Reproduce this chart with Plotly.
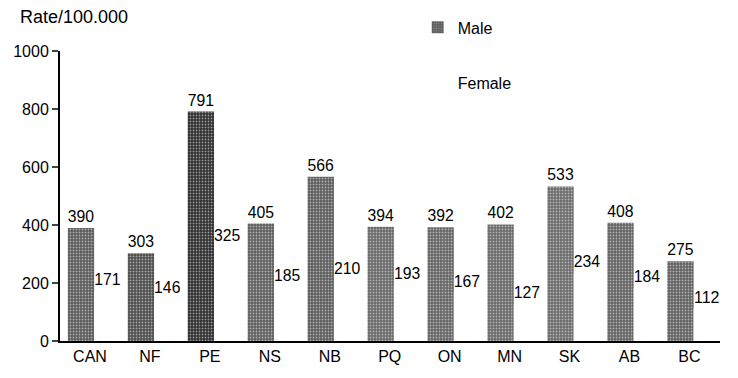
import plotly.graph_objects as go

provinces = ["CAN", "NF", "PE", "NS", "NB", "PQ", "ON", "MN", "SK", "AB", "BC"]
male = [390, 303, 791, 405, 566, 394, 392, 402, 533, 408, 275]
female = [171, 146, 325, 185, 210, 193, 167, 127, 234, 184, 112]
male_shades = ["#5a5a5a", "#4c4c4c", "#2e2e2e", "#5e5e5e", "#5c5c5c", "#686868",
               "#646464", "#686868", "#6a6a6a", "#626262", "#606060"]
y_ticks = [0, 200, 400, 600, 800, 1000]

font = "Liberation Sans, Arial, sans-serif"

fig = go.Figure()
fig.add_trace(go.Bar(
    x=provinces, y=male, name="Male", legendgroup="m",
    width=0.44, offset=-0.37,
    text=[str(v) for v in male], textposition="outside", cliponaxis=False,
    textfont=dict(size=16, color="black", family=font),
    marker=dict(color=male_shades, line=dict(width=0),
                pattern=dict(shape=".", fgcolor="#bdbdbd", size=3, solidity=0.3)),
))
fig.add_trace(go.Bar(
    x=provinces, y=female, name="Female", legendgroup="f",
    width=0.44, offset=0.07,
    text=[str(v) for v in female], textposition="outside", cliponaxis=False,
    textfont=dict(size=16, color="black", family=font),
    marker=dict(color="white", line=dict(width=0)),
))

# page body has an 8px default margin, so the figure is sized to fit inside it
fig.update_layout(
    width=730, height=370,
    margin=dict(l=52, r=18, t=43, b=37, autoexpand=False),
    paper_bgcolor="white", plot_bgcolor="white",
    barmode="group",
    font=dict(family=font, size=16, color="black"),
    showlegend=True,
    legend=dict(x=0.542, y=1.14, xanchor="left", yanchor="top",
                font=dict(size=16, family=font), traceorder="grouped",
                tracegroupgap=32, itemwidth=30, bgcolor="rgba(0,0,0,0)"),
    annotations=[dict(text="Rate/100.000", xref="paper", yref="paper",
                      x=-0.0636, y=1.117, xanchor="left", yanchor="middle",
                      showarrow=False, font=dict(size=18, family=font))],
)
fig.update_yaxes(range=[0, 1000], tickvals=y_ticks, ticks="outside", ticklen=6,
                 tickwidth=2, showline=True, linewidth=2, linecolor="black",
                 showgrid=False, zeroline=False,
                 tickfont=dict(size=16, family=font))
fig.update_xaxes(showline=True, linewidth=2, linecolor="black", showgrid=False,
                 ticks="", tickfont=dict(size=16, family=font))

fig.write_html("out.html")
